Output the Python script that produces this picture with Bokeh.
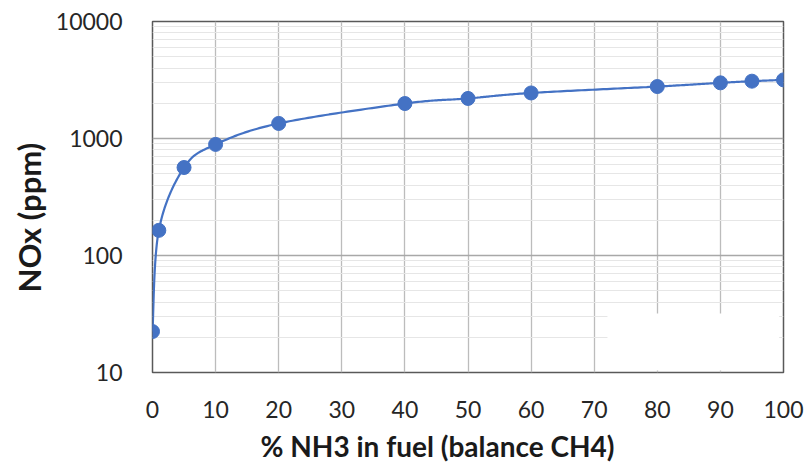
import numpy as np
from bokeh.plotting import figure
from bokeh.models import FixedTicker, Title
from bokeh.embed import file_html
from bokeh.resources import INLINE

# NOx emissions vs ammonia share of the fuel (balance methane)
nh3_pct = [0, 1, 5, 10, 20, 40, 50, 60, 80, 90, 95, 100]
nox_ppm = [22.4, 164, 565, 890, 1345, 1990, 2200, 2450, 2780, 2990, 3090, 3170]

x_ticks = [0, 10, 20, 30, 40, 50, 60, 70, 80, 90, 100]
y_ticks = [10, 100, 1000, 10000]
y_minor = [m * d for d in (10, 100, 1000) for m in range(2, 10)]

BLUE = "#4472C4"
FONT = "Lato"


def smooth_curve(xs, ys, sx=6.31, sy=117.0, n=40):
    """Catmull-Rom style smoothed line, built in screen-proportional space
    (linear x, log y) and mapped back to data units."""
    pts = np.column_stack([np.asarray(xs, float) * sx,
                           np.log10(np.asarray(ys, float)) * sy])
    padded = np.vstack([pts[0], pts, pts[-1]])
    out = []
    t = np.linspace(0, 1, n)[:, None]
    for i in range(1, len(padded) - 2):
        p0, p1, p2, p3 = padded[i - 1], padded[i], padded[i + 1], padded[i + 2]
        c1 = p1 + (p2 - p0) / 6.0
        c2 = p2 - (p3 - p1) / 6.0
        seg = ((1 - t) ** 3) * p1 + 3 * ((1 - t) ** 2) * t * c1 \
            + 3 * (1 - t) * t ** 2 * c2 + t ** 3 * p2
        out.append(seg if i == 1 else seg[1:])
    curve = np.vstack(out)
    return curve[:, 0] / sx, 10 ** (curve[:, 1] / sy)


p = figure(width=805, height=470, y_axis_type="log",
           x_range=(0, 100), y_range=(10, 10000),
           output_backend="svg", toolbar_location=None,
           min_border_left=152, min_border_right=22,
           min_border_top=21, min_border_bottom=98)

p.background_fill_color = "white"
p.border_fill_color = "white"
p.outline_line_color = "#595959"
p.outline_line_width = 1.5

# ticks and grid
p.xaxis.ticker = FixedTicker(ticks=x_ticks)
p.yaxis.ticker = FixedTicker(ticks=y_ticks, minor_ticks=y_minor)
p.yaxis.major_label_overrides = {v: str(v) for v in y_ticks}

p.xgrid.grid_line_color = "#bcbcbc"
p.xgrid.grid_line_width = 1.3
p.ygrid.grid_line_color = "#a8a8a8"
p.ygrid.grid_line_width = 1.3
p.ygrid.minor_grid_line_color = "#e6e6e6"
p.ygrid.minor_grid_line_width = 1

for ax in (p.xaxis, p.yaxis):
    ax.axis_line_color = None
    ax.major_tick_line_color = None
    ax.minor_tick_line_color = None
    ax.major_label_text_font = FONT
    ax.major_label_text_font_size = "23px"
    ax.major_label_text_color = "#262626"

p.xaxis.major_label_standoff = 22
p.yaxis.major_label_standoff = 24

# axis titles
x_title = Title(text="% NH3 in fuel (balance CH4)", align="left", offset=108,
                text_font=FONT, text_font_style="bold", text_font_size="28px",
                text_color="#1a1a1a", standoff=13)
y_title = Title(text="NOx (ppm)", align="left", offset=80,
                text_font=FONT, text_font_style="bold", text_font_size="31px",
                text_color="#1a1a1a")
p.add_layout(x_title, "below")
p.add_layout(y_title, "left")

# blank patch over the lower right of the grid
p.quad(left=72.1, right=99.3, bottom=10.4, top=31.9,
       fill_color="white", line_color=None)

cx, cy = smooth_curve(nh3_pct, nox_ppm)
p.line(cx, cy, line_color=BLUE, line_width=2.2)
p.scatter(nh3_pct, nox_ppm, size=14, fill_color=BLUE, line_color=BLUE)

open("out.html", "w").write(file_html(p, INLINE))
